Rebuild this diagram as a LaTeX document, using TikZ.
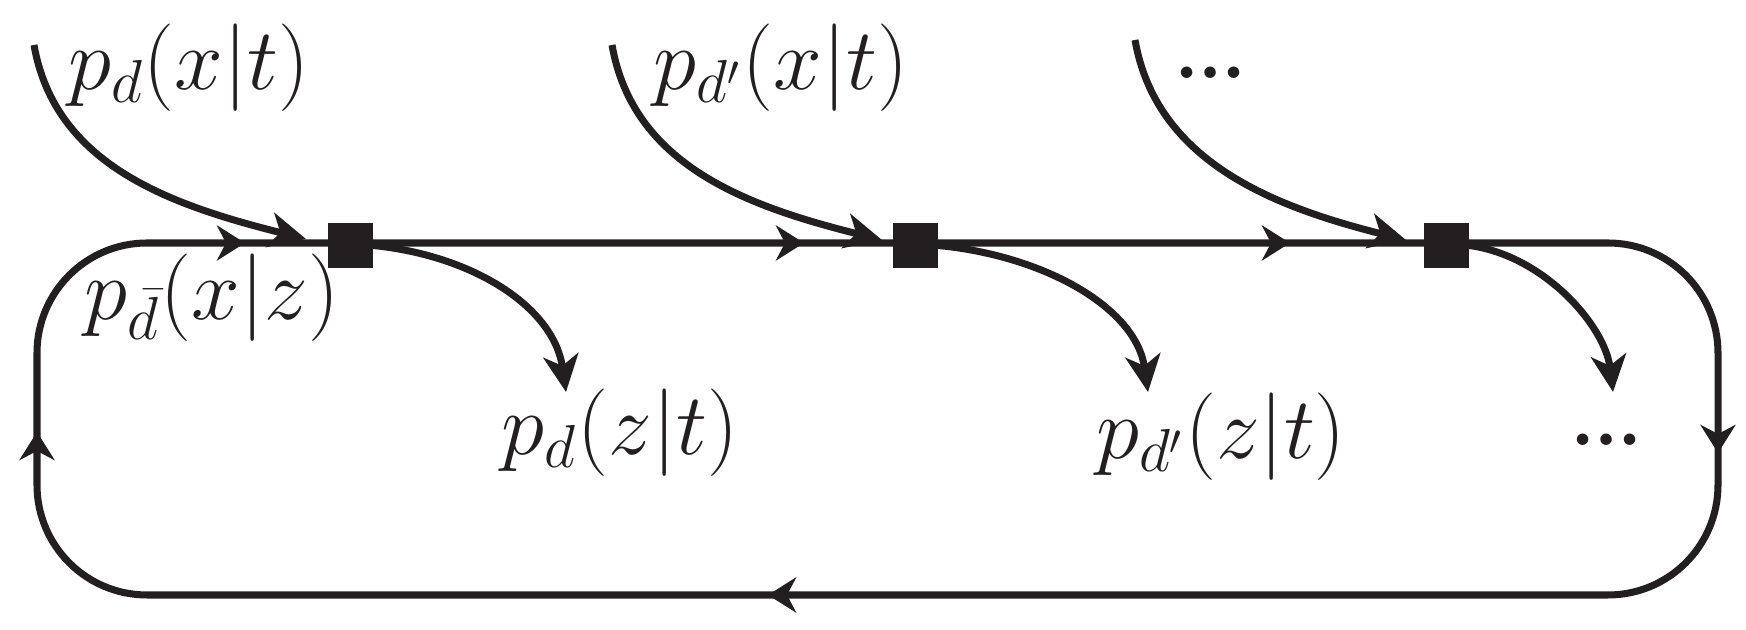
\documentclass[tikz,border=0pt]{standalone}
\usepackage{amsmath}
\usetikzlibrary{arrows.meta, decorations.markings}
\definecolor{ink}{RGB}{35,31,32}
\tikzset{
  flow/.style={ink, line width=2pt, -{Stealth[length=10.5pt,width=10pt,inset=3pt]}},
  gate/.style={rectangle, fill=ink, inner sep=0pt, minimum size=0.45cm},
  lab/.style={text=ink, font=\fontsize{24.7}{30}\selectfont},
  dots/.style={text=ink, font=\fontsize{40}{44}\selectfont}
}

\begin{document}
\begin{tikzpicture}
    \useasboundingbox (0,0) rectangle (17.46,6.30);

    % corners of the loop
    \coordinate (TL) at (0.37,3.87);
    \coordinate (TR) at (17.18,3.87);
    \coordinate (BR) at (17.18,0.35);
    \coordinate (BL) at (0.37,0.35);
    \coordinate (L) at (0.37,1.60);

    \draw[ink, line width=2pt, rounded corners=1.1cm,
        decoration={markings,
            mark=at position 0.38cm with {\arrow{Stealth[length=8pt,width=10pt,inset=2.6pt]}},
            mark=at position 3.878cm with {\arrow{Stealth[length=8pt,width=10pt,inset=2.6pt]}},
            mark=at position 9.468cm with {\arrow{Stealth[length=8pt,width=10pt,inset=2.6pt]}},
            mark=at position 14.328cm with {\arrow{Stealth[length=8pt,width=10pt,inset=2.6pt]}},
            mark=at position 20.236cm with {\arrow{Stealth[length=8pt,width=10pt,inset=2.6pt]}},
            mark=at position 30.684cm with {\arrow{Stealth[length=8pt,width=10pt,inset=2.6pt]}}},
        postaction={decorate}]
        (L) -- (TL) -- (TR) -- (BR) -- (BL) -- (L);

    \node[gate] (S1) at (3.50,3.845) {};
    \node[gate] (S2) at (9.15,3.845) {};
    \node[gate] (S3) at (14.46,3.845) {};

    % incoming
    \coordinate (I1) at (0.34,5.85);
    \coordinate (E1) at (3.06,3.91);
    \coordinate (I2) at (6.12,5.85);
    \coordinate (E2) at (8.82,3.90);
    \coordinate (I3) at (11.35,5.90);
    \coordinate (E3) at (14.06,3.90);
    \draw[flow] (I1) .. controls +(0.21,-1.20) and +(-1.36,0.34) .. (E1);
    \draw[flow] (I2) .. controls +(0.21,-1.20) and +(-1.36,0.34) .. (E2);
    \draw[flow] (I3) .. controls +(0.21,-1.20) and +(-1.36,0.34) .. (E3);

    % outgoing
    \coordinate (O1) at (5.66,2.38);
    \coordinate (O2) at (11.48,2.38);
    \coordinate (O3) at (16.13,2.38);
    \draw[flow] (S1.east) .. controls +(1.00,-0.10) and +(-0.12,0.85) .. (O1);
    \draw[flow] (S2.east) .. controls +(1.05,-0.10) and +(-0.12,0.85) .. (O2);
    \draw[flow] (S3.east) .. controls +(0.75,-0.10) and +(-0.08,0.66) .. (O3);

    \node[lab] (Pxt) at (1.89,5.62) {$p_d(x|t)$};
    \node[lab] (Qxt) at (7.81,5.62) {$p_{d'}(x|t)$};
    \node[dots] (Dxt) at (12.11,5.57) {…};
    \node[lab] (Pxz) at (2.12,3.32) {$p_{\bar{d}}(x|z)$};
    \node[lab] (Pzt) at (6.20,1.97) {$p_d(z|t)$};
    \node[lab] (Qzt) at (12.21,1.93) {$p_{d'}(z|t)$};
    \node[dots] (Dzt) at (16.07,1.90) {…};
\end{tikzpicture}
\end{document}
